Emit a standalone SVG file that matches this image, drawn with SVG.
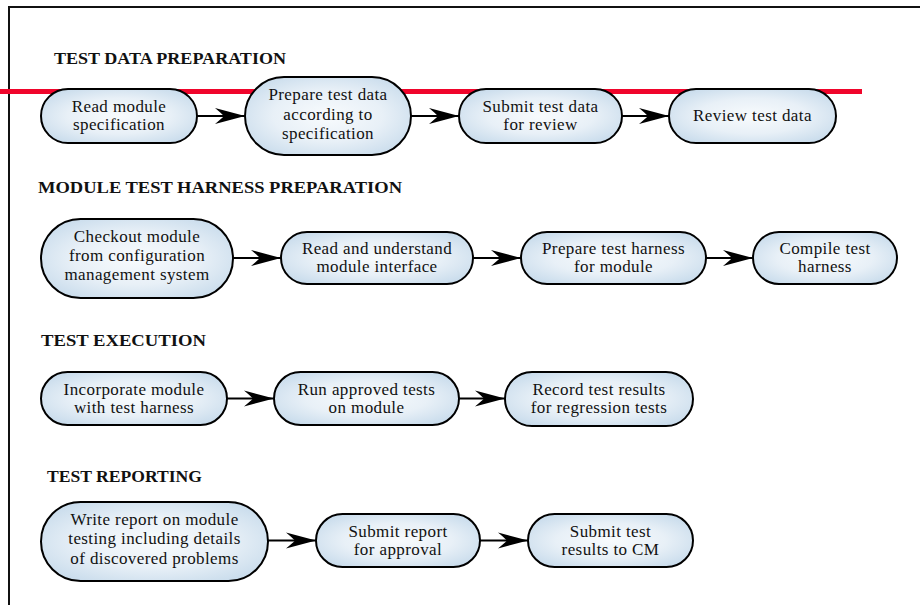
<svg xmlns="http://www.w3.org/2000/svg" width="920" height="605" viewBox="0 0 920 605">
  <defs>
    <radialGradient id="nodeFill" cx="50%" cy="50%" r="60%">
      <stop offset="0" stop-color="#f8fbfd"/>
      <stop offset="0.55" stop-color="#e8f0f7"/>
      <stop offset="1" stop-color="#c9dcec"/>
    </radialGradient>
    <marker id="stealth" viewBox="-31 -9 32 18" refX="0" refY="0" markerUnits="userSpaceOnUse" markerWidth="32" markerHeight="18" orient="auto">
      <path d="M0,0 L-30,-8 Q-24,-3 -21,0 Q-24,3 -30,8 Z" fill="#000"/>
    </marker>
  </defs>
  <style>
    .frame { fill: none; stroke: #111; stroke-width: 2; }
    .node rect { fill: url(#nodeFill); stroke: #000; stroke-width: 2; }
    .node text { font-family: "Liberation Serif", "Times New Roman", serif; font-size: 17px; letter-spacing: 0.4px; fill: #111; text-anchor: middle; }
    .title { font-family: "Liberation Serif", "Times New Roman", serif; font-size: 17px; font-weight: bold; fill: #111; }
    .edge { stroke: #000; stroke-width: 1.8; fill: none; marker-end: url(#stealth); }
  </style>

  <rect width="920" height="605" fill="#fff"/>

  <!-- page frame -->
  <path class="frame" d="M9,605 V7 H920"/>

  <!-- highlight rule -->
  <line x1="0" y1="91.5" x2="862" y2="91.5" stroke="#f0052b" stroke-width="5"/>

  <!-- section headings -->
  <text class="title" x="54" y="64" textLength="232" lengthAdjust="spacingAndGlyphs">TEST DATA PREPARATION</text>
  <text class="title" x="38" y="193" textLength="364" lengthAdjust="spacingAndGlyphs">MODULE TEST HARNESS PREPARATION</text>
  <text class="title" x="41" y="346" textLength="165" lengthAdjust="spacingAndGlyphs">TEST EXECUTION</text>
  <text class="title" x="47" y="482" textLength="155" lengthAdjust="spacingAndGlyphs">TEST REPORTING</text>

  <!-- connectors -->
  <g id="connectors">
    <line class="edge" x1="197" y1="116" x2="245" y2="116"/>
    <line class="edge" x1="411" y1="116" x2="459" y2="116"/>
    <line class="edge" x1="622" y1="116" x2="669" y2="116"/>

    <line class="edge" x1="233" y1="258" x2="281" y2="258"/>
    <line class="edge" x1="473" y1="258" x2="521" y2="258"/>
    <line class="edge" x1="706" y1="258" x2="753" y2="258"/>

    <line class="edge" x1="227" y1="398.5" x2="274" y2="398.5"/>
    <line class="edge" x1="459" y1="398.5" x2="505" y2="398.5"/>

    <line class="edge" x1="268" y1="540.5" x2="316" y2="540.5"/>
    <line class="edge" x1="480" y1="540.5" x2="528" y2="540.5"/>
  </g>

  <!-- test data preparation -->
  <g id="read-spec" class="node">
    <rect x="41" y="89" width="156" height="54" rx="27"/>
    <text x="119" y="112">Read module</text>
    <text x="119" y="130">specification</text>
  </g>
  <g id="prepare-data" class="node">
    <rect x="245" y="77" width="166" height="78" rx="39"/>
    <text x="328" y="100">Prepare test data</text>
    <text x="328" y="120">according to</text>
    <text x="328" y="139">specification</text>
  </g>
  <g id="submit-data" class="node">
    <rect x="459" y="89" width="163" height="54" rx="27"/>
    <text x="540.5" y="112">Submit test data</text>
    <text x="540.5" y="130">for review</text>
  </g>
  <g id="review-data" class="node">
    <rect x="669" y="89" width="167" height="54" rx="27"/>
    <text x="752.5" y="121">Review test data</text>
  </g>

  <!-- module test harness preparation -->
  <g id="checkout" class="node">
    <rect x="41" y="219" width="192" height="79" rx="39.5"/>
    <text x="137" y="242">Checkout module</text>
    <text x="137" y="261">from configuration</text>
    <text x="137" y="280">management system</text>
  </g>
  <g id="read-interface" class="node">
    <rect x="281" y="232" width="192" height="52" rx="26"/>
    <text x="377" y="254">Read and understand</text>
    <text x="377" y="272">module interface</text>
  </g>
  <g id="prepare-harness" class="node">
    <rect x="521" y="232" width="185" height="52" rx="26"/>
    <text x="613.5" y="254">Prepare test harness</text>
    <text x="613.5" y="272">for module</text>
  </g>
  <g id="compile-harness" class="node">
    <rect x="753" y="232" width="144" height="52" rx="26"/>
    <text x="825" y="254">Compile test</text>
    <text x="825" y="272">harness</text>
  </g>

  <!-- test execution -->
  <g id="incorporate" class="node">
    <rect x="41" y="372" width="186" height="53" rx="26.5"/>
    <text x="134" y="394.5">Incorporate module</text>
    <text x="134" y="412.5">with test harness</text>
  </g>
  <g id="run-tests" class="node">
    <rect x="274" y="372" width="185" height="53" rx="26.5"/>
    <text x="366.5" y="394.5">Run approved tests</text>
    <text x="366.5" y="412.5">on module</text>
  </g>
  <g id="record-results" class="node">
    <rect x="505" y="372" width="188" height="54" rx="27"/>
    <text x="599" y="394.5">Record test results</text>
    <text x="599" y="412.5">for regression tests</text>
  </g>

  <!-- test reporting -->
  <g id="write-report" class="node">
    <rect x="41" y="502" width="227" height="79" rx="39.5"/>
    <text x="154.5" y="525">Write report on module</text>
    <text x="154.5" y="544">testing including details</text>
    <text x="154.5" y="563.5">of discovered problems</text>
  </g>
  <g id="submit-report" class="node">
    <rect x="316" y="514" width="164" height="53" rx="26.5"/>
    <text x="398" y="536.5">Submit report</text>
    <text x="398" y="554.5">for approval</text>
  </g>
  <g id="submit-cm" class="node">
    <rect x="528" y="514" width="165" height="53" rx="26.5"/>
    <text x="610.5" y="536.5">Submit test</text>
    <text x="610.5" y="554.5">results to CM</text>
  </g>
</svg>
